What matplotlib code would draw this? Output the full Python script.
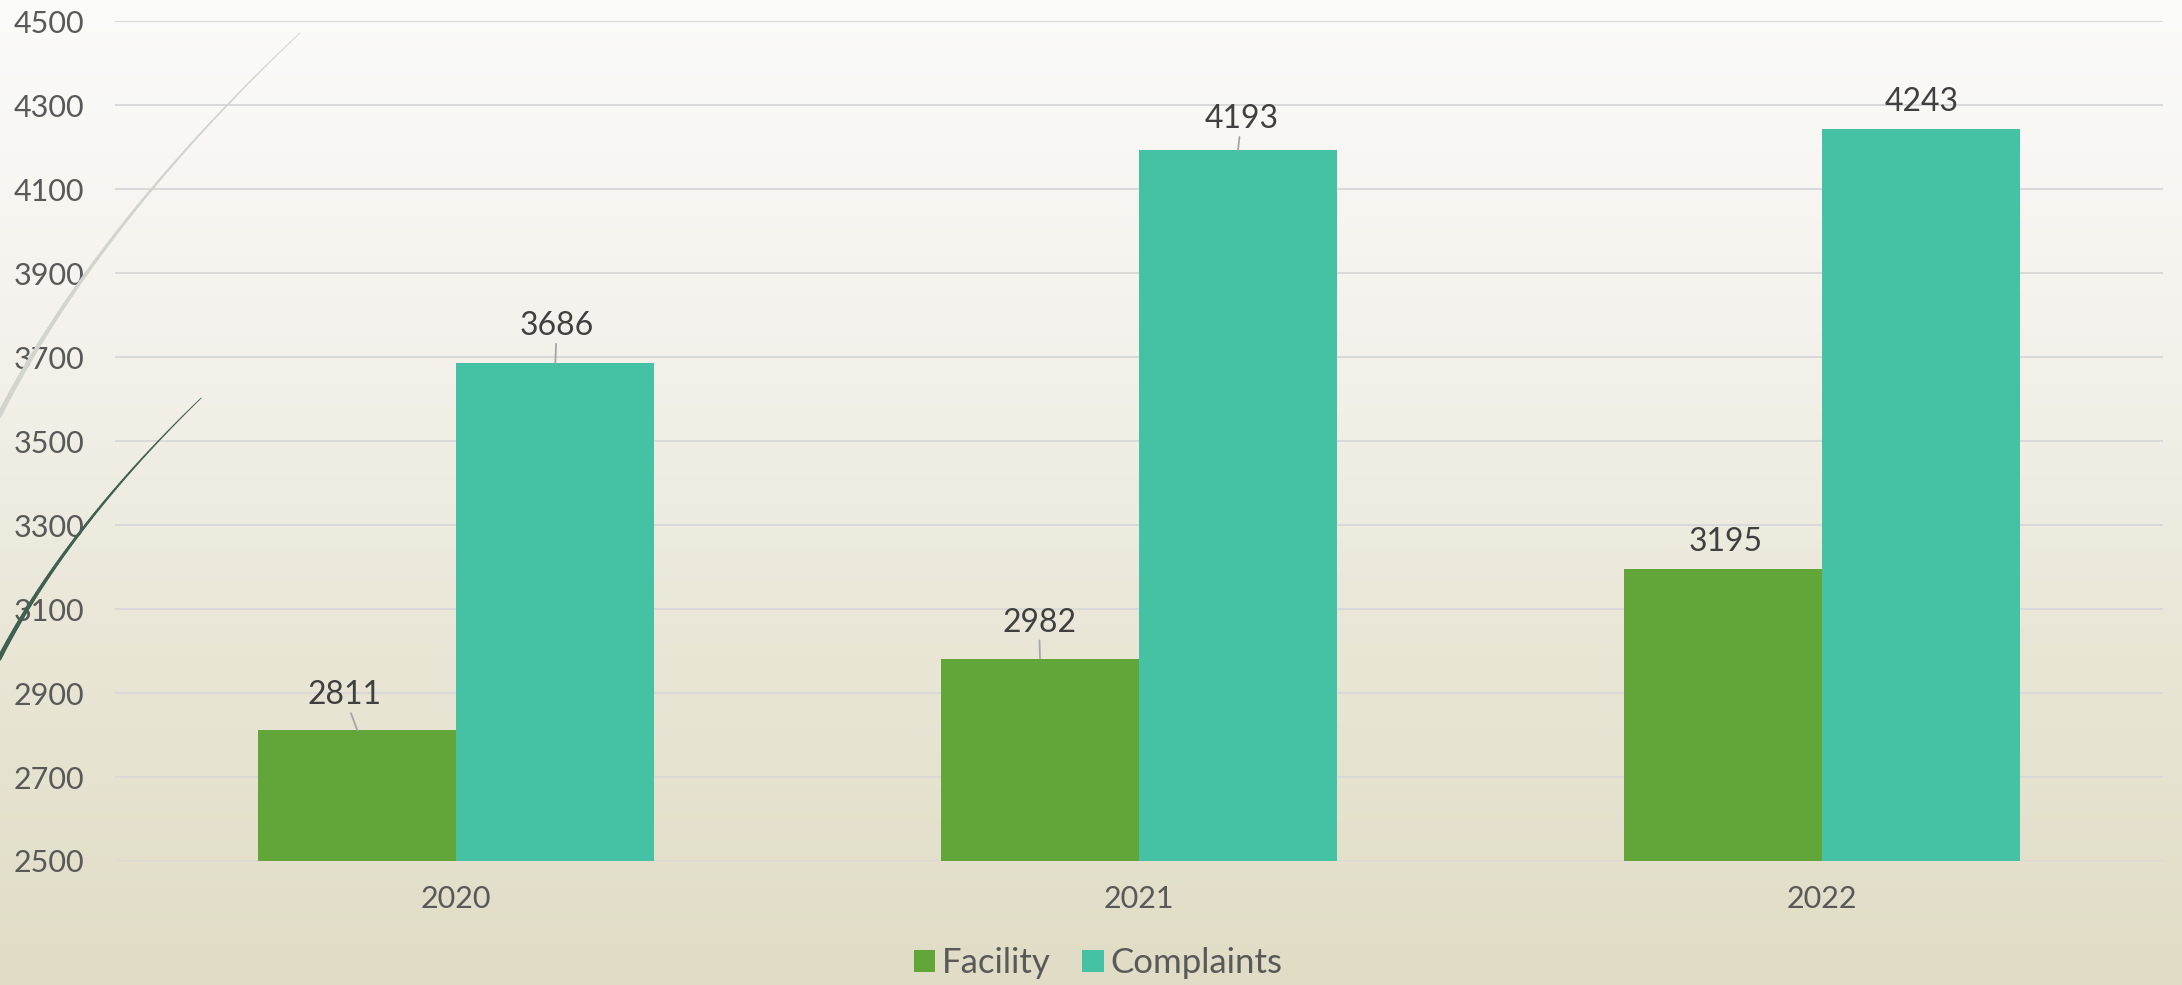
import numpy as np
import matplotlib.pyplot as plt
from matplotlib.collections import LineCollection
from matplotlib.colors import LinearSegmentedColormap
from matplotlib.patches import Patch

# Chart data.
YEARS = ["2020", "2021", "2022"]
FACILITY = [2811, 2982, 3195]
COMPLAINTS = [3686, 4193, 4243]
SERIES_NAMES = ["Facility", "Complaints"]
Y_TICKS = list(range(2500, 4501, 200))

GREEN = "#62a538"
TEAL = "#45c1a4"
TEXT_GREY = "#595959"
LABEL_GREY = "#404040"
GRID_GREY = "#d9d9d9"

W, H, DPI = 2182, 985, 100
FONT = ["Lato", "DejaVu Sans"]

plt.rcParams["font.family"] = FONT


def px(v):
    """Pixels to points at this dpi."""
    return v * 72.0 / DPI


def pixel_axes(fig, zorder):
    """Full-figure axes in pixel coordinates (y down)."""
    a = fig.add_axes([0, 0, 1, 1], zorder=zorder)
    a.set_xlim(0, W)
    a.set_ylim(H, 0)
    a.axis("off")
    a.patch.set_alpha(0)
    return a


def draw_background(fig):
    """Soft vertical gradient behind everything."""
    bg = pixel_axes(fig, 0)
    grad = np.linspace(0, 1, 256).reshape(-1, 1)
    cmap = LinearSegmentedColormap.from_list(
        "bg", ["#fbfbf9", "#f4f2ec", "#e9e6d6", "#e0dcc5"])
    bg.imshow(grad, aspect="auto", cmap=cmap, extent=[0, W, H, 0])
    bg.set_xlim(0, W)
    bg.set_ylim(H, 0)


def draw_swooshes(fig):
    """The two decorative curves on the left, drawn above the axes."""
    over = pixel_axes(fig, 3)
    swooshes = [
        ([300, 227, 153, 85, 33, 0], [33, 105, 189, 273, 357, 413],
         "#d2d5ce", 0.6, 3.6),
        ([201, 150, 117, 78, 40, 0], [398, 450, 487, 537, 586, 658],
         "#3e6150", 0.6, 3.4),
    ]
    for xs, ys, color, w0, w1 in swooshes:
        coef = np.polyfit(ys, xs, 2)
        yy = np.linspace(ys[0], ys[-1] + 10, 120)
        xx = np.polyval(coef, yy)
        pts = np.column_stack([xx, yy]).reshape(-1, 1, 2)
        segs = np.concatenate([pts[:-1], pts[1:]], axis=1)
        widths = np.linspace(w0, w1, len(segs))
        over.add_collection(LineCollection(segs, colors=color,
                                           linewidths=widths,
                                           capstyle="round"))


def main():
    fig = plt.figure(figsize=(W / DPI, H / DPI), dpi=DPI)
    draw_background(fig)

    left, right, top, bottom = 115, 2163, 21.3, 861
    ax = fig.add_axes([left / W, 1 - bottom / H, (right - left) / W,
                       (bottom - top) / H], zorder=1)
    ax.set_facecolor("none")

    x = np.arange(len(YEARS))
    width = 0.29
    series = [FACILITY, COMPLAINTS]
    colors = [GREEN, TEAL]
    offsets = [-width / 2, width / 2]
    # text offset above bar top (px) and whether a leader line is drawn
    label_dx = [[-13, -1, 3], [1.5, 3.5, 1]]
    label_dy = [[35, 36, 27], [37, 31, 27]]
    leader = [[True, True, False], [True, True, False]]

    for s, (vals, col, off) in enumerate(zip(series, colors, offsets)):
        ax.bar(x + off, vals, width=width, color=col, bottom=0,
               edgecolor="none", zorder=2)
        for i, v in enumerate(vals):
            arrow = None
            if leader[s][i]:
                arrow = dict(arrowstyle="-", color="#a6a6a6", lw=1.3,
                             shrinkA=0, shrinkB=0)
            ax.annotate(f"{v}", xy=(x[i] + off, v),
                        xytext=(px(label_dx[s][i]), px(label_dy[s][i])),
                        textcoords="offset points", ha="center",
                        va="center", fontsize=23, color=LABEL_GREY,
                        arrowprops=arrow, zorder=3)

    ax.set_xlim(-0.5, len(YEARS) - 0.5)
    ax.set_ylim(Y_TICKS[0], Y_TICKS[-1])
    ax.set_yticks(Y_TICKS)
    ax.set_xticks(x)
    ax.set_xticklabels(YEARS)
    ax.tick_params(axis="y", length=0, pad=px(31), labelsize=22,
                   labelcolor=TEXT_GREY)
    ax.tick_params(axis="x", length=0, pad=px(24), labelsize=22,
                   labelcolor=TEXT_GREY)
    ax.yaxis.grid(True, color=GRID_GREY, lw=1.4)
    ax.set_axisbelow(True)
    for sp in ax.spines.values():
        sp.set_visible(False)

    draw_swooshes(fig)

    handles = [Patch(facecolor=c, edgecolor="none") for c in colors]
    fig.legend(handles, SERIES_NAMES, loc="center",
               bbox_to_anchor=(1098 / W, 1 - 963 / H), ncol=2,
               frameon=False, fontsize=25, labelcolor=TEXT_GREY,
               handlelength=0.62, handleheight=0.62, handletextpad=0.2,
               columnspacing=0.9)

    fig.savefig("out.png", dpi=DPI)
    plt.close(fig)


if __name__ == "__main__":
    main()
